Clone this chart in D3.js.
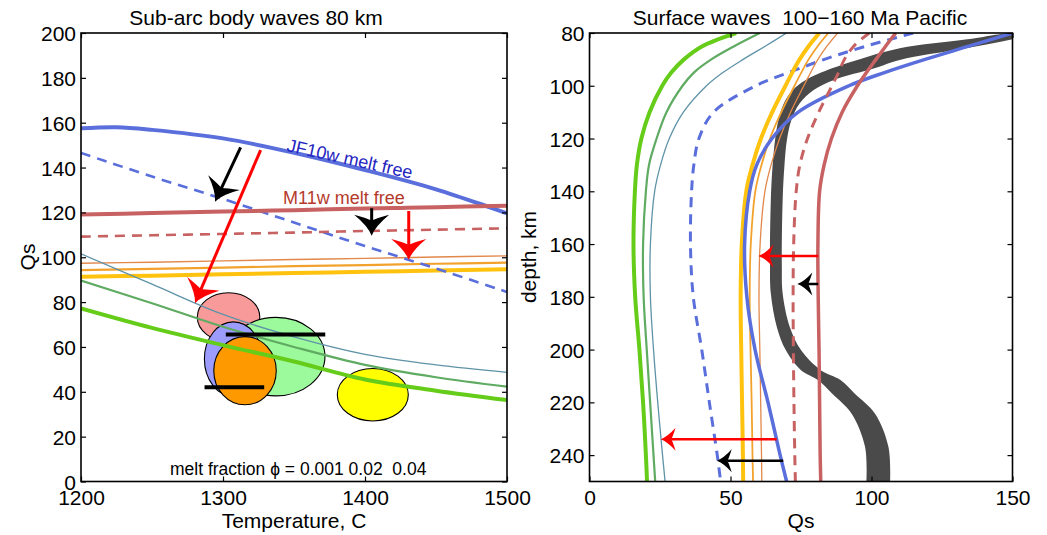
<!DOCTYPE html>
<html>
<head>
<meta charset="utf-8">
<script src="https://cdn.jsdelivr.net/npm/d3@7"></script>
<style>
  body { margin: 0; background: #fff; }
  text { font-family: "Liberation Sans", Arial, Helvetica, sans-serif; white-space: pre; }
</style>
</head>
<body>
<div id="chart"></div>
<script>
// ---------- left panel: Qs vs temperature at 80 km ----------
const tempTicks = [1200, 1300, 1400, 1500];
const qsTicksLeft = [0, 20, 40, 60, 80, 100, 120, 140, 160, 180, 200];
const tempGrid = [1200, 1250, 1300, 1350, 1400, 1450, 1500];

const jfDryTemp = [1200, 1225, 1250, 1300, 1350, 1400, 1450, 1500];
const jfDryQs = [157.5, 158, 156.8, 153, 146.6, 138.9, 130.3, 119.6];
const jfMeltQs = [146.5, 136, 126, 115.5, 105, 95, 84.5];
const mDryQs = [119.1, 119.7, 120.4, 121, 121.7, 122.3, 123];
const mMeltQs = [109.2, 109.8, 110.4, 111, 111.7, 112.3, 112.9];
const orangeThinQs = [97.3, 97.8, 98.4, 99, 99.5, 100.1, 100.6];
const orangeMidQs = [94.3, 94.8, 95.4, 96, 96.5, 97.1, 97.6];
const yellowQs = [91.3, 91.8, 92.4, 93, 93.5, 94.1, 94.6];
const tealQs = [101.5, 88, 74.5, 64.5, 56.7, 52, 48.7];
const greenMidQs = [89.6, 79.5, 69, 60, 52, 46.5, 42.3];
const greenThickQs = [77.2, 68.5, 60.8, 53.5, 45.5, 40.5, 36.3];

// observation ellipses: centre temp, centre Qs, temp radius, Qs radius
const ellipseNames = ["pink", "green", "blue", "orange", "yellow"];
const ellipseTemp = [1303.9, 1337.3, 1307.3, 1315.5, 1405.5];
const ellipseQs = [73.3, 55.7, 54.6, 49.4, 38.7];
const ellipseRT = [22, 34.5, 20.4, 22, 25];
const ellipseRQ = [10.9, 17.5, 16.6, 15.2, 11.7];

// black bars: temp from, temp to, Qs
const barT0 = [1302, 1287];
const barT1 = [1372, 1329];
const barQs = [65.6, 42];

// arrows: [temp0, qs0, temp1, qs1]
const arrowsLeft = [
  [1312.4, 149, 1294.4, 124.8],
  [1326.5, 147.8, 1280.3, 79.5],
  [1404.7, 121.8, 1404.7, 109.6],
  [1430.8, 120.6, 1430.8, 98.8]
];

// ---------- right panel: Qs vs depth, 100-160 Ma Pacific ----------
const qsTicksRight = [0, 50, 100, 150];
const depthTicks = [80, 100, 120, 140, 160, 180, 200, 220, 240];
const depthGrid = [80, 85, 90, 95, 100, 110, 120, 130, 140, 160, 180, 200, 220, 240, 250];

const rGreenThick = [52, 40, 33.5, 29, 25.8, 21.3, 18.4, 16.8, 16.1, 15.6, 16.2, 17.7, 19, 20, 20.4];
const rGreenMid = [60.4, 51.3, 43.2, 37, 33, 27.3, 23.8, 21.1, 20, 19, 19.2, 20.3, 21.5, 22.7, 23.3];
const rTeal = [69.9, 62.3, 54.5, 47.3, 41.5, 33.3, 28.3, 25.2, 23.1, 21.6, 21.6, 22.7, 24.2, 25.9, 26.8];
const rJfMelt = [114.8, 98, 83.3, 70.6, 59, 44, 38.8, 37, 36.2, 35.8, 36.8, 39.8, 42.5, 45.3, 46.5];
const rYellow = [81.5, 77.7, 74.5, 71.9, 69.5, 64.8, 60.8, 57.8, 55.6, 54, 53.6, 53.8, 54.1, 54.4, 54.5];
const rOrangeMid = [84.7, 80.9, 77.7, 75.1, 72.7, 68, 64, 61, 58.8, 57.2, 56.8, 57.1, 57.5, 57.8, 58];
const rOrangeThin = [88, 84.2, 81, 78.4, 76, 71.3, 67.4, 64.4, 62.2, 60.5, 60.1, 60.4, 60.7, 61, 61.1];
const rJfDry = [150, 134.5, 119, 104.6, 92, 74, 64.7, 59.3, 56.8, 55, 55.8, 58.7, 63.3, 67.6, 69.9];
const rMDry = [108.6, 105, 101.6, 98.2, 95, 89.6, 85.8, 83.2, 81.6, 81, 81.1, 81.4, 81.6, 81.8, 82];
const rMMelt = [99.2, 93.7, 90.4, 88.3, 86, 81.3, 77.3, 74.6, 73.3, 72.4, 72.2, 72.3, 72.5, 72.8, 73];

// grey band (range of Qs at each depth)
const bandDepth = [80, 82.4, 85.8, 90.2, 93.4, 97.8, 101.6, 106.7, 113, 120.6, 130.7, 143.3, 168.6, 178.7, 191.3, 200.2, 207.8, 211.5, 216.6, 224.2, 236.8, 250];
const bandLo = [148, 134, 110, 95, 86, 76.7, 72.1, 68.9, 67, 65.8, 64.9, 64.3, 64, 64.3, 66.4, 69.6, 75, 81, 86, 92.9, 97.7, 98.2];
const bandHi = [160, 150, 133.4, 110, 101, 86.7, 79.5, 74.5, 71.6, 70, 69.1, 68.5, 68.2, 68.5, 71, 75, 82, 89, 94, 101.2, 106, 106.6];

// arrows: [qs0, depth0, qs1, depth1]
const arrowsRight = [
  [81.1, 164.5, 59.9, 164.5],
  [81.1, 175.1, 73.7, 175.1],
  [66.4, 234, 25.2, 234],
  [68.7, 242.1, 45.1, 242.1]
];

// ---------- drawing ----------
const W = 1047, H = 535;
const svg = d3.select("#chart").append("svg")
  .attr("width", W).attr("height", H)
  .style("background", "#fff");

const FONT = 21;

const xL = d3.scaleLinear().domain([1200, 1500]).range([81, 507]);
const yL = d3.scaleLinear().domain([0, 200]).range([481.5, 33]);
const xR = d3.scaleLinear().domain([0, 150]).range([589.5, 1012.5]);
const yR = d3.scaleLinear().domain([80, 250]).range([33, 481.5]);

function clip(id, x, y) {
  svg.append("clipPath").attr("id", id).append("rect")
    .attr("x", x.range()[0]).attr("y", Math.min(...y.range()))
    .attr("width", x.range()[1] - x.range()[0])
    .attr("height", Math.abs(y.range()[1] - y.range()[0]));
}
clip("clipL", xL, yL);
clip("clipR", xR, yR);

function frame(x, y, xt, yt) {
  const x0 = x.range()[0], x1 = x.range()[1];
  const yTop = Math.min(...y.range()), yBot = Math.max(...y.range());
  const fmt = d3.format("d");
  const style = (g) => {
    g.select(".domain").remove();
    g.selectAll(".tick line").attr("stroke", "#000").attr("stroke-width", 1.2);
    g.selectAll(".tick text").attr("font-size", FONT).attr("fill", "#000")
      .attr("font-family", "Liberation Sans, Arial, sans-serif");
  };
  svg.append("g").attr("transform", `translate(0,${yBot})`)
    .call(d3.axisBottom(x).tickValues(xt).tickFormat(fmt).tickSizeInner(-5).tickSizeOuter(0).tickPadding(9))
    .call(style);
  svg.append("g").attr("transform", `translate(0,${yTop})`)
    .call(d3.axisTop(x).tickValues(xt).tickSizeInner(-5).tickSizeOuter(0).tickFormat(""))
    .call(style);
  svg.append("g").attr("transform", `translate(${x0},0)`)
    .call(d3.axisLeft(y).tickValues(yt).tickFormat(fmt).tickSizeInner(-5).tickSizeOuter(0).tickPadding(5))
    .call(style)
    .selectAll(".tick text").attr("dy", "0.36em");
  svg.append("g").attr("transform", `translate(${x1},0)`)
    .call(d3.axisRight(y).tickValues(yt).tickSizeInner(-5).tickSizeOuter(0).tickFormat(""))
    .call(style);
  svg.append("rect").attr("x", x0).attr("y", yTop)
    .attr("width", x1 - x0).attr("height", yBot - yTop)
    .attr("fill", "none").attr("stroke", "#000").attr("stroke-width", 1.6);
}

function arrow(g, p0, p1, color, sw, L, Wd) {
  const ang = Math.atan2(p1[1] - p0[1], p1[0] - p0[0]);
  const nx = p1[0] - Math.cos(ang) * L * 0.7;
  const ny = p1[1] - Math.sin(ang) * L * 0.7;
  g.append("line").attr("x1", p0[0]).attr("y1", p0[1]).attr("x2", nx).attr("y2", ny)
    .attr("stroke", color).attr("stroke-width", sw);
  g.append("path")
    .attr("d", `M0,0 Q${-0.45 * L},${-0.1 * Wd} ${-L},${-Wd / 2} Q${-0.82 * L},${-0.12 * Wd} ${-0.72 * L},0 ` +
               `Q${-0.82 * L},${0.12 * Wd} ${-L},${Wd / 2} Q${-0.45 * L},${0.1 * Wd} 0,0Z`)
    .attr("transform", `translate(${p1[0]},${p1[1]}) rotate(${ang * 180 / Math.PI})`)
    .attr("fill", color);
}

// ----- left panel -----
const gL = svg.append("g").attr("clip-path", "url(#clipL)");
const ellFill = { pink: "#f99a9a", green: "#9cf99c", blue: "#9c9cff", orange: "#ff9900", yellow: "#ffff00" };
ellipseNames.forEach((n, i) => {
  gL.append("ellipse")
    .attr("cx", xL(ellipseTemp[i])).attr("cy", yL(ellipseQs[i]))
    .attr("rx", xL(ellipseTemp[i] + ellipseRT[i]) - xL(ellipseTemp[i]))
    .attr("ry", yL(ellipseQs[i]) - yL(ellipseQs[i] + ellipseRQ[i]))
    .attr("fill", ellFill[n]).attr("stroke", "#000").attr("stroke-width", 1.1);
});

const lineL = d3.line().x(d => xL(d[0])).y(d => yL(d[1])).curve(d3.curveCatmullRom.alpha(0.5));
const zipL = (qs, ts = tempGrid) => ts.map((t, i) => [t, qs[i]]);
const leftSeries = [
  { q: orangeThinQs, c: "#e2884a", w: 1.4 },
  { q: orangeMidQs, c: "#f2a22c", w: 2.2 },
  { q: yellowQs, c: "#ffc20e", w: 4 },
  { q: tealQs, c: "#5f93a8", w: 1.3 },
  { q: greenMidQs, c: "#5fab62", w: 2.2 },
  { q: greenThickQs, c: "#66cc1a", w: 4 },
  { q: jfMeltQs, c: "#5a6fdc", w: 2.6, dash: "10,7" },
  { q: mMeltQs, c: "#c86262", w: 2.6, dash: "10,7" },
  { q: jfDryQs, t: jfDryTemp, c: "#5a6fdc", w: 4 },
  { q: mDryQs, c: "#c86262", w: 4 }
];
leftSeries.forEach(s => {
  gL.append("path").datum(zipL(s.q, s.t || tempGrid))
    .attr("d", lineL).attr("fill", "none")
    .attr("stroke", s.c).attr("stroke-width", s.w)
    .attr("stroke-dasharray", s.dash || null);
});

barQs.forEach((q, i) => {
  gL.append("line")
    .attr("x1", xL(barT0[i])).attr("x2", xL(barT1[i]))
    .attr("y1", yL(q)).attr("y2", yL(q))
    .attr("stroke", "#000").attr("stroke-width", 4);
});

const arrowColL = ["#000", "#ff0000", "#000", "#ff0000"];
arrowsLeft.forEach((a, i) => {
  arrow(gL, [xL(a[0]), yL(a[1])], [xL(a[2]), yL(a[3])], arrowColL[i], 3, 21, 35);
});

svg.append("text").attr("x", 286).attr("y", 151)
  .attr("transform", "rotate(12.5,286,151)")
  .attr("font-size", 18).attr("fill", "#2424c0").text("JF10w melt free");
svg.append("text").attr("x", 283).attr("y", 204)
  .attr("font-size", 18).attr("fill", "#b53a2c").text("M11w melt free");
svg.append("text").attr("x", 170).attr("y", 475)
  .attr("font-size", 17.5).attr("fill", "#000")
  .text("melt fraction \u03d5 = 0.001 0.02  0.04");

frame(xL, yL, tempTicks, qsTicksLeft);

svg.append("text").attr("x", 256).attr("y", 25).attr("text-anchor", "middle")
  .attr("font-size", FONT).text("Sub-arc body waves 80 km");
svg.append("text").attr("x", 294).attr("y", 528).attr("text-anchor", "middle")
  .attr("font-size", FONT).text("Temperature, C");
svg.append("text").attr("transform", "translate(35,257) rotate(-90)")
  .attr("text-anchor", "middle").attr("font-size", FONT).text("Qs");

// ----- right panel -----
const gR = svg.append("g").attr("clip-path", "url(#clipR)");
const band = bandDepth.map((d, i) => ({ d, lo: bandLo[i], hi: bandHi[i] }));
gR.append("path").datum(band)
  .attr("d", d3.area().y(d => yR(d.d)).x0(d => xR(d.lo)).x1(d => xR(d.hi))
    .curve(d3.curveCatmullRom.alpha(0.5)))
  .attr("fill", "#4a4a4a");

const lineR = d3.line().x(d => xR(d[1])).y(d => yR(d[0])).curve(d3.curveCatmullRom.alpha(0.5));
const zipR = (qs) => depthGrid.map((d, i) => [d, qs[i]]);
const rightSeries = [
  { q: rGreenThick, c: "#66cc1a", w: 4 },
  { q: rGreenMid, c: "#5fab62", w: 2.2 },
  { q: rTeal, c: "#5f93a8", w: 1.3 },
  { q: rJfMelt, c: "#5a6fdc", w: 3, dash: "10,7" },
  { q: rYellow, c: "#ffc20e", w: 4 },
  { q: rOrangeMid, c: "#f2a22c", w: 1.8 },
  { q: rOrangeThin, c: "#e2884a", w: 1.3 },
  { q: rJfDry, c: "#5a6fdc", w: 3.5 },
  { q: rMMelt, c: "#c86262", w: 3, dash: "10,7" },
  { q: rMDry, c: "#c86262", w: 3.5 }
];
rightSeries.forEach(s => {
  gR.append("path").datum(zipR(s.q))
    .attr("d", lineR).attr("fill", "none")
    .attr("stroke", s.c).attr("stroke-width", s.w)
    .attr("stroke-dasharray", s.dash || null);
});

const arrowColR = ["#ff0000", "#000", "#ff0000", "#000"];
arrowsRight.forEach((a, i) => {
  arrow(gR, [xR(a[0]), yR(a[1])], [xR(a[2]), yR(a[3])], arrowColR[i], 2.5, 15, 23);
});

frame(xR, yR, qsTicksRight, depthTicks);

svg.append("text").attr("x", 800).attr("y", 25).attr("text-anchor", "middle")
  .attr("font-size", FONT).text("Surface waves  100\u2212160 Ma Pacific");
svg.append("text").attr("x", 801).attr("y", 528).attr("text-anchor", "middle")
  .attr("font-size", FONT).text("Qs");
svg.append("text").attr("transform", "translate(536,257) rotate(-90)")
  .attr("text-anchor", "middle").attr("font-size", FONT).text("depth, km");
</script>
</body>
</html>
